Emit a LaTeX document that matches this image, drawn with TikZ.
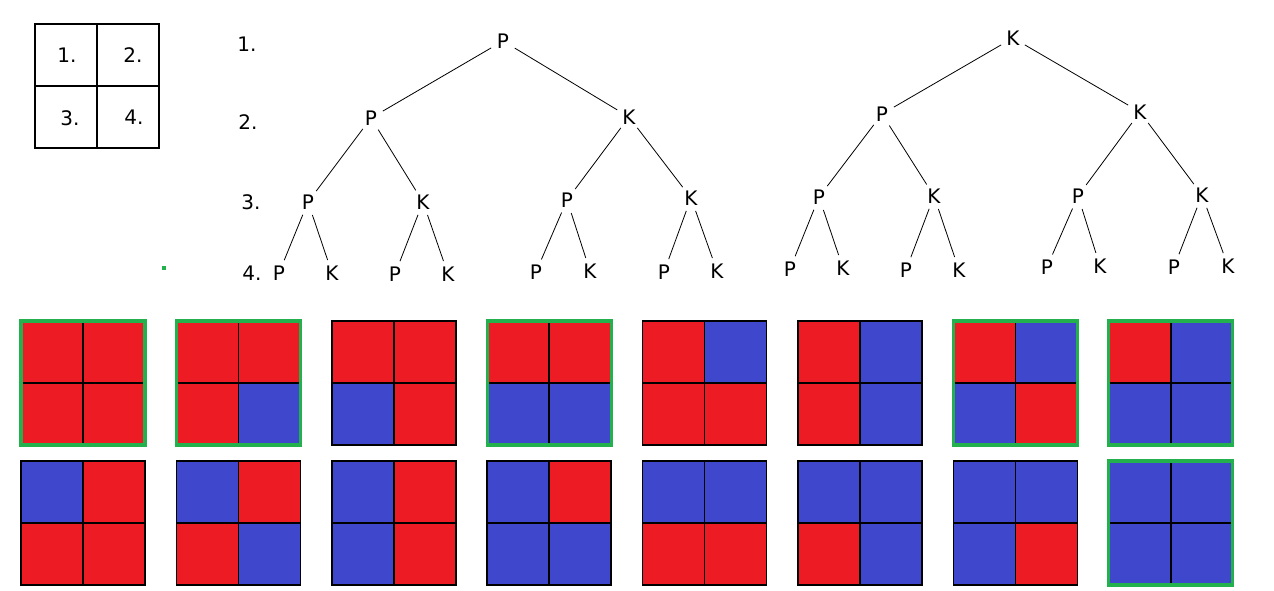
\documentclass[tikz,border=0pt]{standalone}
\usepackage{fontspec}
\setmainfont{DejaVu Sans}
\definecolor{R}{HTML}{ED1C24}
\definecolor{B}{HTML}{3F48CC}
\definecolor{G}{HTML}{22B14C}
\tikzset{
  letter/.style={circle, inner sep=0pt, minimum size=27pt, font=\fontsize{20}{24}\selectfont},
  numtext/.style={inner sep=0pt, font=\fontsize{20}{24}\selectfont},
  branch/.style={line width=0.8pt},
  cellline/.style={line width=1.6pt},
  greenframe/.style={G, line width=3.2pt}
}
\begin{document}
\begin{tikzpicture}[x=1pt,y=-1pt]
        \useasboundingbox (0,0) rectangle (1274,591);

        % Key square
        \draw[cellline] (35,24) rectangle (159,148);
        \draw[cellline] (97,24) -- (97,148);
        \draw[cellline] (35,86) -- (159,86);
        \node[numtext] (k1) at (67,55)  {1.};
        \node[numtext] (k2) at (133,55) {2.};
        \node[numtext] (k3) at (70,118) {3.};
        \node[numtext] (k4) at (134,117) {4.};

        % Level numbers
        \node[numtext] (l1) at (247,44)  {1.};
        \node[numtext] (l2) at (248,122) {2.};
        \node[numtext] (l3) at (251,202) {3.};
        \node[numtext] (l4) at (252,273) {4.};

        \fill[G] (162,266) rectangle (166,270);

        % First tree
        \node[letter] (A)    at (503,41)  {P};
        \node[letter] (AP)   at (371,118) {P};
        \node[letter] (AK)   at (629,117) {K};
        \node[letter] (APP)  at (308,202) {P};
        \node[letter] (APK)  at (423,202) {K};
        \node[letter] (AKP)  at (567,200) {P};
        \node[letter] (AKK)  at (691,198) {K};
        \node[letter] (APPP) at (279,273) {P};
        \node[letter] (APPK) at (332,273) {K};
        \node[letter] (APKP) at (395,274) {P};
        \node[letter] (APKK) at (448,274) {K};
        \node[letter] (AKPP) at (536,272) {P};
        \node[letter] (AKPK) at (590,271) {K};
        \node[letter] (AKKP) at (664,272) {P};
        \node[letter] (AKKK) at (717,271) {K};

        % Second tree
        \node[letter] (B)    at (1013,38)  {K};
        \node[letter] (BP)   at (882,114)  {P};
        \node[letter] (BK)   at (1140,112) {K};
        \node[letter] (BPP)  at (819,197)  {P};
        \node[letter] (BPK)  at (934,196)  {K};
        \node[letter] (BKP)  at (1078,196) {P};
        \node[letter] (BKK)  at (1202,195) {K};
        \node[letter] (BPPP) at (790,269)  {P};
        \node[letter] (BPPK) at (843,268)  {K};
        \node[letter] (BPKP) at (906,270)  {P};
        \node[letter] (BPKK) at (959,270)  {K};
        \node[letter] (BKPP) at (1047,267) {P};
        \node[letter] (BKPK) at (1100,266) {K};
        \node[letter] (BKKP) at (1174,267) {P};
        \node[letter] (BKKK) at (1228,266) {K};

        % Branches
        \foreach \t in {A,B} {
          \foreach \u in {P,K} {
            \draw[branch] (\t) -- (\t\u);
            \foreach \v in {P,K} {
              \draw[branch] (\t\u) -- (\t\u\v);
              \foreach \w in {P,K}
                \draw[branch] (\t\u\v) -- (\t\u\v\w);
            }
          }
        }

        % Colourings: top left, top right, bottom left, bottom right, marked
        \foreach \i/\a/\b/\c/\d/\g in {0/R/R/R/R/1, 1/R/R/R/B/1, 2/R/R/B/R/0, 3/R/R/B/B/1,
                                       4/R/B/R/R/0, 5/R/B/R/B/0, 6/R/B/B/R/1, 7/R/B/B/B/1} {
          \begin{scope}[shift={(21+155.4*\i,321)}]
            \fill[\a] (0,0)   rectangle (62,62);
            \fill[\b] (62,0)  rectangle (124,62);
            \fill[\c] (0,62)  rectangle (62,124);
            \fill[\d] (62,62) rectangle (124,124);
            \draw[cellline] (0,0) rectangle (124,124);
            \draw[cellline] (62,0) -- (62,124);
            \draw[cellline] (0,62) -- (124,62);
            \ifnum\g=1 \draw[greenframe] (0,0) rectangle (124,124); \fi
          \end{scope}
        }
        \foreach \i/\a/\b/\c/\d/\g in {0/B/R/R/R/0, 1/B/R/R/B/0, 2/B/R/B/R/0, 3/B/R/B/B/0,
                                       4/B/B/R/R/0, 5/B/B/R/B/0, 6/B/B/B/R/0, 7/B/B/B/B/1} {
          \begin{scope}[shift={(21+155.4*\i,461)}]
            \fill[\a] (0,0)   rectangle (62,62);
            \fill[\b] (62,0)  rectangle (124,62);
            \fill[\c] (0,62)  rectangle (62,124);
            \fill[\d] (62,62) rectangle (124,124);
            \draw[cellline] (0,0) rectangle (124,124);
            \draw[cellline] (62,0) -- (62,124);
            \draw[cellline] (0,62) -- (124,62);
            \ifnum\g=1 \draw[greenframe] (0,0) rectangle (124,124); \fi
          \end{scope}
        }
\end{tikzpicture}
\end{document}
